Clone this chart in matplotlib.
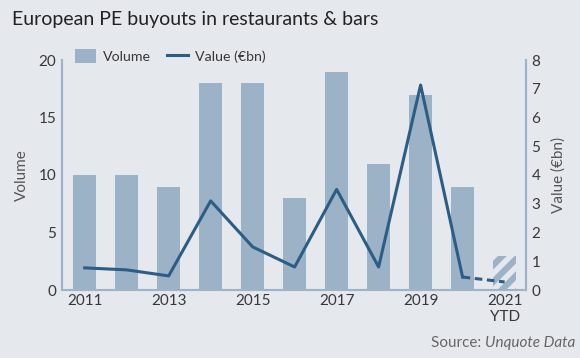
import matplotlib.pyplot as plt
from matplotlib.lines import Line2D
from matplotlib.patches import Patch

# Data
years = [2011, 2012, 2013, 2014, 2015, 2016, 2017, 2018, 2019, 2020, 2021]
volume = [10, 10, 9, 18, 18, 8, 19, 11, 17, 9, 3]
value_bn = [0.77, 0.7, 0.49, 3.1, 1.5, 0.8, 3.5, 0.8, 7.13, 0.45, 0.28]
xtick_years = [2011, 2013, 2015, 2017, 2019, 2021]
xtick_labels = ["2011", "2013", "2015", "2017", "2019", "2021\nYTD"]

bg = "#e5e8ed"
bar_col = "#9cb3c7"
line_col = "#2c5d85"
spine_col = "#9db4c8"
txt = "#383838"

plt.rcParams['font.family'] = ['Lato', 'DejaVu Sans']
plt.rcParams['hatch.linewidth'] = 4.0

fig = plt.figure(figsize=(5.8, 3.58), dpi=100, facecolor=bg)
ax = fig.add_axes([62 / 580, 1 - 290 / 358, (526 - 62) / 580, 230 / 358])
ax.set_facecolor(bg)

ax.bar(years[:-1], volume[:-1], width=0.55, color=bar_col, zorder=1)
ax.bar(years[-1], volume[-1], width=0.55, color=bar_col, hatch="//",
       edgecolor=bg, linewidth=0, zorder=1)

ax.set_xlim(2010.46, 2021.51)
ax.set_ylim(0, 20)
ax.set_yticks([0, 5, 10, 15, 20])
ax.set_xticks(xtick_years)
ax.set_xticklabels(xtick_labels)
ax.set_ylabel("Volume", color="#555555", fontsize=11, labelpad=7)

ax2 = ax.twinx()
ax2.plot(years[:-1], value_bn[:-1], color=line_col, lw=2.2, zorder=3)
ax2.plot(years[-2:], value_bn[-2:], color=line_col, lw=2.2, ls=(0, (2.5, 1.5)), zorder=3)
ax2.set_ylim(0, 8)
ax2.set_yticks(range(0, 9))
ax2.set_ylabel("Value (€bn)", color="#555555", fontsize=11, labelpad=8)

for a in (ax, ax2):
    for s in a.spines.values():
        s.set_visible(False)
    a.tick_params(length=0, labelsize=11, colors=txt, pad=4)
ax.spines['left'].set_visible(True)
ax.spines['bottom'].set_visible(True)
ax2.spines['right'].set_visible(True)
for s in (ax.spines['left'], ax.spines['bottom'], ax2.spines['right']):
    s.set_color(spine_col)
    s.set_linewidth(1.5)
ax.tick_params(axis='x', pad=3)

handles = [Patch(facecolor=bar_col, edgecolor='none'),
           Line2D([0], [0], color=line_col, lw=2.2)]
fig.legend(handles, ["Volume", "Value (€bn)"], loc="center left",
           bbox_to_anchor=(62 / 580, 1 - 56 / 358), ncol=2, frameon=False,
           fontsize=10.2, labelcolor=txt, handlelength=1.5, handleheight=1.1,
           columnspacing=1.1, handletextpad=0.5)

fig.text(12 / 580, 1 - 20 / 358, "European PE buyouts in restaurants & bars",
         fontsize=14, color="#222222", va="center", ha="left")
fig.text(575 / 580, 1 - 343 / 358, "Source: ", fontsize=11, color="#666666",
         ha="right", va="center")
src = fig.text(575 / 580, 1 - 343 / 358, "Unquote Data", fontsize=11, color="#666666",
               ha="right", va="center", style="italic")
fig.canvas.draw()
w = src.get_window_extent().width
fig.texts[-2].set_position((575 / 580 - w / 580, 1 - 343 / 358))

fig.savefig("out.png", dpi=100, facecolor=bg)
